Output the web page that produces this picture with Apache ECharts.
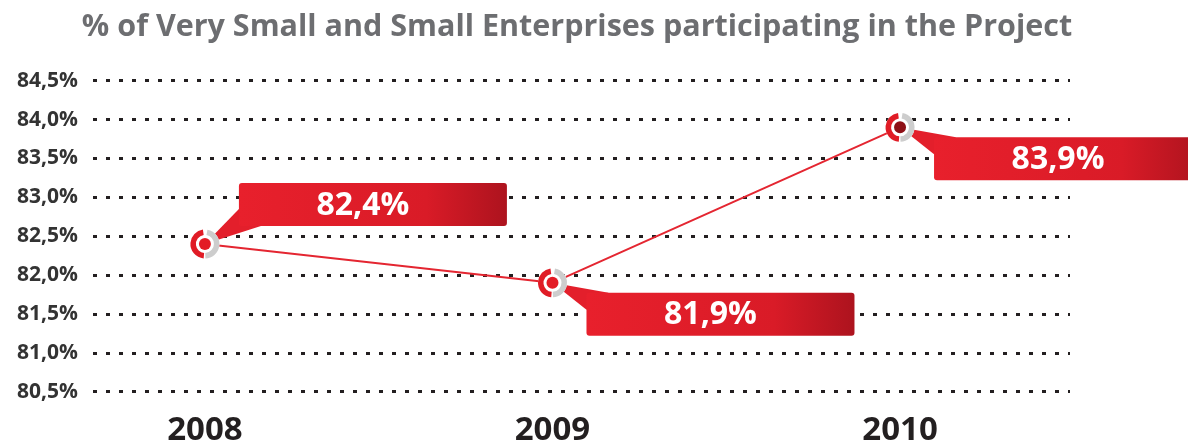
<!DOCTYPE html>
<html>
<head>
<meta charset="utf-8">
<script src="https://cdn.jsdelivr.net/npm/echarts@6/dist/echarts.min.js"></script>
<style>
html, body { margin: 0; padding: 0; background: #fff; }
#chart { width: 1188px; height: 447px; }
</style>
</head>
<body>
<div id="chart"></div>
<script>
// data
var years = [2008, 2009, 2010];
var shares = [82.4, 81.9, 83.9];
var yMin = 80.5, yMax = 84.5, yStep = 0.5;

// callout styling per point
var calloutSide = ['up', 'down', 'down'];
var dotColors = ['#e31b25', '#e31b25', '#8e1016'];

function fmt(v) {
    return v.toFixed(1).replace('.', ',') + '%';
}

var DEG = Math.PI / 180;

function renderCallout(params, api) {
    var i = params.dataIndex;
    var p = api.coord([api.value(0), api.value(1)]);
    var up = calloutSide[i] === 'up';
    var bw = 268, bh = 43;
    var bx = p[0] + 34;
    var by = up ? p[1] - 61 : p[1] + 10;
    var wedge = up
        ? [[p[0], p[1]], [bx, by + bh - 17], [bx + 22, by + bh]]
        : [[p[0], p[1]], [bx, by + 17], [bx + 22, by]];
    var grad = new echarts.graphic.LinearGradient(0, 0, 1, 0, [
        { offset: 0, color: '#e8202c' },
        { offset: 0.7, color: '#d91b27' },
        { offset: 1, color: '#ad131e' }
    ]);
    return {
        type: 'group',
        children: [
            { type: 'polygon', shape: { points: wedge }, style: { fill: '#e31f2b' } },
            { type: 'rect', shape: { x: bx, y: by, width: bw, height: bh, r: 3 }, style: { fill: grad } },
            {
                type: 'text',
                style: {
                    text: fmt(api.value(1)), x: bx + 124, y: by + bh / 2 + 1,
                    align: 'center', verticalAlign: 'middle', fill: '#fff',
                    font: 'bold 32px "Open Sans", sans-serif'
                }
            },
            { type: 'circle', shape: { cx: p[0], cy: p[1], r: 14.5 }, style: { fill: '#fff' } },
            {
                type: 'sector',
                shape: { cx: p[0], cy: p[1], r0: 9, r: 14.5, startAngle: 95 * DEG, endAngle: 262 * DEG, clockwise: true },
                style: { fill: '#e01c26' }
            },
            {
                type: 'sector',
                shape: { cx: p[0], cy: p[1], r0: 9, r: 14.5, startAngle: -80 * DEG, endAngle: 88 * DEG, clockwise: true },
                style: { fill: '#cdcdcd' }
            },
            { type: 'circle', shape: { cx: p[0], cy: p[1], r: 6 }, style: { fill: dotColors[i] } }
        ]
    };
}

var points = years.map(function (y, i) { return [y, shares[i]]; });

var myChart = echarts.init(document.getElementById('chart'));
var option = {
    animation: false,
    title: {
        text: '% of Very Small and Small Enterprises participating in the Project',
        left: 572,
        textAlign: 'center',
        top: 7,
        textStyle: {
            fontFamily: 'Open Sans',
            fontWeight: 'bold',
            fontSize: 30.5,
            color: '#6d6e71'
        }
    },
    grid: { left: 93, right: 118, top: 80.7, bottom: 55.3 },
    xAxis: {
        type: 'value',
        min: 2007.678,
        max: 2010.489,
        splitLine: { show: false },
        axisLine: { show: false },
        axisTick: { show: false },
        axisLabel: {
            customValues: years,
            formatter: function (v) { return String(v); },
            margin: 22,
            fontFamily: 'Open Sans',
            fontWeight: 'bold',
            fontSize: 33,
            color: '#231f20'
        }
    },
    yAxis: {
        type: 'value',
        min: yMin,
        max: yMax,
        interval: yStep,
        axisLine: { show: false },
        axisTick: { show: false },
        axisLabel: {
            formatter: fmt,
            margin: 15,
            fontFamily: 'Open Sans',
            fontWeight: 'bold',
            fontSize: 21,
            color: '#333'
        },
        splitLine: {
            lineStyle: { type: [4, 9], width: 3, color: '#231f20' }
        }
    },
    series: [
        {
            type: 'line',
            data: points,
            symbol: 'none',
            lineStyle: { color: '#e42631', width: 2 },
            z: 2
        },
        {
            type: 'custom',
            data: points,
            encode: { x: 0, y: 1 },
            renderItem: renderCallout,
            clip: false,
            z: 5
        }
    ]
};
myChart.setOption(option);
window.onresize = myChart.resize;
</script>
</body>
</html>
